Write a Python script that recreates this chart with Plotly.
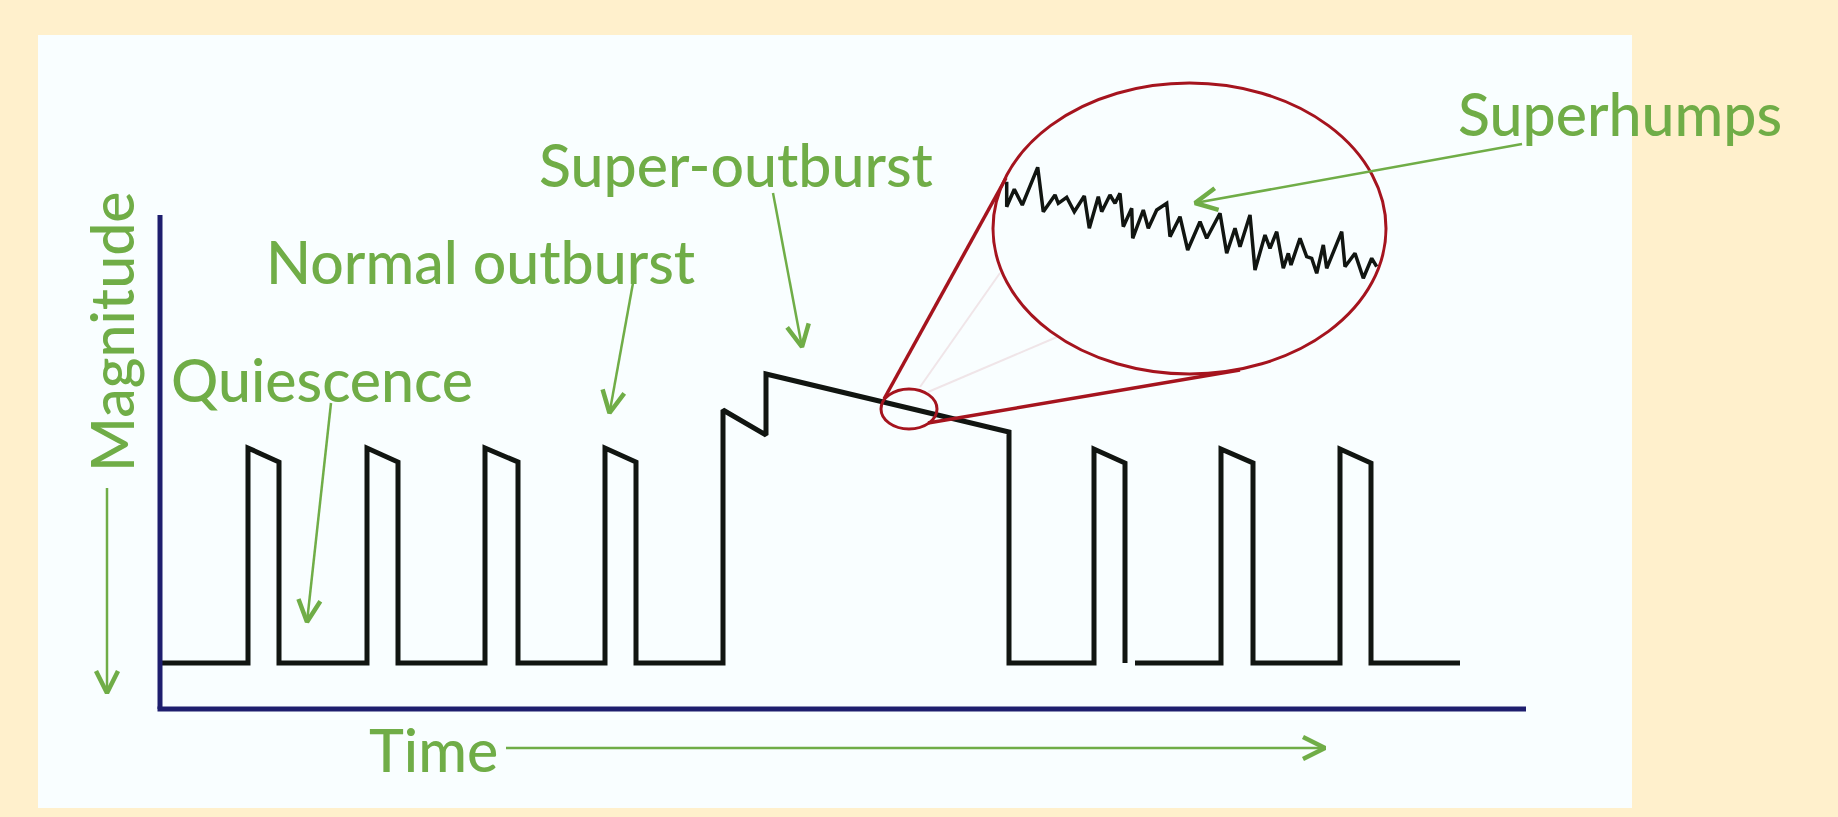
import math
import plotly.graph_objects as go

# ---------------- data (schematic coordinates: x = time, y = magnitude, y grows downward) ----------------
# light curve: normal outbursts, super-outburst, more normal outbursts
curve_a_x = [160, 248, 248, 279, 279, 367, 367, 398, 398, 485, 485, 518, 518, 605, 605, 636, 636,
             723, 723, 766, 766, 1009, 1009, 1094, 1094, 1125, 1125]
curve_a_y = [663, 663, 448, 462, 663, 663, 448, 462, 663, 663, 448, 462, 663, 663, 448, 462, 663,
             663, 410, 435, 374, 432, 663, 663, 449, 463, 663]
curve_b_x = [1135, 1221, 1221, 1253, 1253, 1340, 1340, 1371, 1371, 1460]
curve_b_y = [663, 663, 449, 463, 663, 663, 449, 463, 663, 663]

# zoomed super-outburst plateau showing superhumps
hump_x = [1006.7, 1006.7, 1014.3, 1022.3, 1037.7, 1043.3, 1055, 1058.3, 1066.7, 1074.3, 1084.3, 1089.3,
          1098.3, 1101.7, 1110, 1115, 1120, 1123.3, 1131.7, 1132.7, 1143.3, 1148.3, 1156.7, 1166.7,
          1170, 1180, 1187.7, 1200, 1206.7, 1220, 1226.7, 1235, 1240, 1250, 1255, 1265, 1270, 1276.7,
          1283.3, 1288.3, 1291, 1300, 1306.7, 1311.7, 1316.7, 1323.3, 1326.7, 1341.7, 1345, 1355,
          1363.3, 1371.7, 1376.7]
hump_y = [181.7, 206.7, 189.3, 205, 167.3, 211.7, 195, 203.3, 197.3, 211.7, 196, 228.3,
          196.7, 211.7, 195, 203.3, 193.3, 226.7, 208.3, 238.3, 210, 228.3, 210, 203.3,
          236.7, 216.7, 250, 221.7, 238.3, 213.3, 253.3, 228.3, 246.7, 215, 270, 235, 248.3, 231.7,
          268.3, 253.3, 265, 238.3, 256.7, 258.3, 273.3, 245, 268.3, 231.7, 266.7, 253.3,
          278.3, 258.3, 266.7]

# labels: text, left x, baseline y
label_text = ["Superhumps", "Super-outburst", "Normal outburst", "Quiescence", "Time"]
label_x = [1456, 537, 264, 169, 367]
label_base = [131, 182, 279, 397, 767]

# pointer arrows: start -> tip
arrow_start = [(1522, 144), (773, 193), (633, 283), (331, 403), (107, 488), (506, 748)]
arrow_tip = [(1195, 203), (802, 347), (609.5, 413), (307, 622), (107, 693), (1325, 748)]

# magnifier geometry
small_ellipse = (881, 389, 937, 429)
big_ellipse = (993, 83, 1386, 374)
connector_lines = [((884, 399), (1006, 178)), ((928, 423), (1240, 370))]
faint_lines = [((920, 387), (1000, 273)), ((928, 392), (1057, 337))]

# ---------------- styling ----------------
W, H = 1838, 817
GREEN = "rgb(112,173,71)"
BLACK = "#111511"
RED = "rgb(165,20,30)"
NAVY = "rgb(30,30,110)"
FONT = "Lato"
FS = 59
FW = 500

fig = go.Figure()

# light curve
fig.add_trace(go.Scatter(x=curve_a_x, y=curve_a_y, mode="lines",
                         line=dict(color=BLACK, width=5), hoverinfo="skip"))
fig.add_trace(go.Scatter(x=curve_b_x, y=curve_b_y, mode="lines",
                         line=dict(color=BLACK, width=5), hoverinfo="skip"))
# superhumps
fig.add_trace(go.Scatter(x=hump_x, y=hump_y, mode="lines",
                         line=dict(color=BLACK, width=3.5), hoverinfo="skip"))

shapes = []
# white panel
shapes.append(dict(type="rect", xref="x", yref="y", x0=38, y0=35, x1=1632, y1=808,
                   fillcolor="#F9FEFF", line=dict(width=0), layer="below"))
# axes
shapes.append(dict(type="line", xref="x", yref="y", x0=160, y0=215, x1=160, y1=709,
                   line=dict(color=NAVY, width=5)))
shapes.append(dict(type="line", xref="x", yref="y", x0=157.5, y0=709, x1=1526, y1=709,
                   line=dict(color=NAVY, width=5)))
# faint lines
for (a, b) in faint_lines:
    shapes.append(dict(type="line", xref="x", yref="y", x0=a[0], y0=a[1], x1=b[0], y1=b[1],
                       line=dict(color="rgba(190,90,100,0.15)", width=2)))
# connectors
for (a, b) in connector_lines:
    shapes.append(dict(type="line", xref="x", yref="y", x0=a[0], y0=a[1], x1=b[0], y1=b[1],
                       line=dict(color=RED, width=3.5)))
# ellipses
for e in (small_ellipse, big_ellipse):
    shapes.append(dict(type="circle", xref="x", yref="y", x0=e[0], y0=e[1], x1=e[2], y1=e[3],
                       line=dict(color=RED, width=3)))

# arrows
HEAD_L, HEAD_W = 22, 11
for (s, t) in zip(arrow_start, arrow_tip):
    shapes.append(dict(type="line", xref="x", yref="y", x0=s[0], y0=s[1], x1=t[0], y1=t[1],
                       line=dict(color=GREEN, width=2.5)))
    dx, dy = t[0] - s[0], t[1] - s[1]
    L = math.hypot(dx, dy)
    ux, uy = dx / L, dy / L
    px, py = -uy, ux
    bx, by = t[0] - ux * HEAD_L, t[1] - uy * HEAD_L
    hx = [bx + px * HEAD_W, t[0], bx - px * HEAD_W]
    hy = [by + py * HEAD_W, t[1], by - py * HEAD_W]
    fig.add_trace(go.Scatter(x=hx, y=hy, mode="lines",
                             line=dict(color=GREEN, width=4.5), hoverinfo="skip"))

annotations = []
for txt, lx, base in zip(label_text, label_x, label_base):
    annotations.append(dict(text=txt, x=lx, y=base - 0.30 * FS, xref="x", yref="y",
                            xanchor="left", yanchor="middle", showarrow=False,
                            font=dict(family=FONT, size=FS, color=GREEN, weight=FW)))
annotations.append(dict(text="Magnitude", x=111, y=332, xref="x", yref="y", textangle=-90,
                        xanchor="center", yanchor="middle", showarrow=False,
                        font=dict(family=FONT, size=FS, color=GREEN, weight=FW)))

fig.update_layout(
    width=W, height=H,
    margin=dict(l=0, r=0, t=0, b=0),
    paper_bgcolor="#FFF0CC", plot_bgcolor="rgba(0,0,0,0)",
    showlegend=False,
    xaxis=dict(range=[0, W], visible=False, fixedrange=True),
    yaxis=dict(range=[H, 0], visible=False, fixedrange=True),
    shapes=shapes, annotations=annotations,
)

fig.write_html("out.html", config={"displayModeBar": False},
               post_script="document.body.style.margin='0px';document.body.style.overflow='hidden';")
